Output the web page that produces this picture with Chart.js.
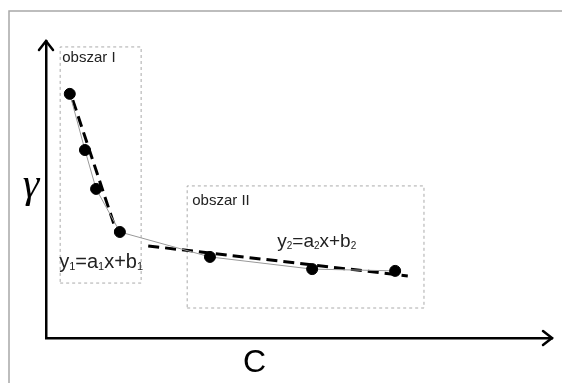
<!DOCTYPE html>
<html>
<head>
<meta charset="utf-8">
<script src="https://cdn.jsdelivr.net/npm/chart.js@4/dist/chart.umd.min.js"></script>
<style>
    html, body { margin: 0; padding: 0; background: #fff; }
    canvas { display: block; }
</style>
</head>
<body>
<canvas id="regionChart" width="562" height="383"></canvas>
<script>
// Measured points (C on x, gamma on y, arbitrary units 0-100)
const pointX = [4.7, 7.7, 9.9, 14.6, 32.4, 52.6, 69.0];
const pointY = [82.2, 63.3, 50.2, 35.7, 27.3, 23.2, 22.6];

// Fitted lines for both regions
const fit1X = [5.3, 14.0];
const fit1Y = [80.1, 35.4];
const fit2X = [20.2, 71.5];
const fit2Y = [31.0, 20.9];

// Region boxes [xMin, xMax, yMin, yMax]
const region1 = [2.8, 18.8, 18.5, 98.0];
const region2 = [27.9, 74.7, 10.1, 51.2];

const region1Label = 'obszar I';
const region2Label = 'obszar II';
const xTitle = 'C';
const yTitle = 'γ';

function toXY(xs, ys) {
    return xs.map((x, i) => ({ x: x, y: ys[i] }));
}

function boxPath(r) {
    return [
        { x: r[0], y: r[2] }, { x: r[1], y: r[2] },
        { x: r[1], y: r[3] }, { x: r[0], y: r[3] },
        { x: r[0], y: r[2] }
    ];
}

// text with subscripts: parts = [[text, isSub], ...]
function drawRich(ctx, parts, x, y, size) {
    let cx = x;
    parts.forEach(p => {
        if (p[1]) {
            ctx.font = Math.round(size * 0.55) + 'px "Liberation Sans", Arial, sans-serif';
            ctx.fillText(p[0], cx, y + size * 0.12);
        } else {
            ctx.font = size + 'px "Liberation Sans", Arial, sans-serif';
            ctx.fillText(p[0], cx, y);
        }
        cx += ctx.measureText(p[0]).width;
    });
}

const decorPlugin = {
    id: 'decor',
    beforeDraw(chart) {
        const ctx = chart.ctx;
        ctx.save();
        ctx.strokeStyle = '#a8a8a8';
        ctx.lineWidth = 1.5;
        ctx.beginPath();
        ctx.moveTo(562, 11);
        ctx.lineTo(9, 11);
        ctx.lineTo(9, 383);
        ctx.stroke();
        ctx.restore();
    },
    afterDraw(chart) {
        const ctx = chart.ctx;
        const xs = chart.scales.x;
        const ys = chart.scales.y;
        const area = chart.chartArea;
        ctx.save();

        // arrow heads
        ctx.strokeStyle = '#000';
        ctx.lineWidth = 2.5;
        ctx.lineCap = 'round';
        ctx.lineJoin = 'miter';
        ctx.beginPath();
        ctx.moveTo(area.right - 9, area.bottom - 7);
        ctx.lineTo(area.right, area.bottom);
        ctx.lineTo(area.right - 9, area.bottom + 7);
        ctx.moveTo(area.left - 7, area.top + 9);
        ctx.lineTo(area.left, area.top);
        ctx.lineTo(area.left + 7, area.top + 9);
        ctx.stroke();

        ctx.fillStyle = '#222';
        ctx.textBaseline = 'alphabetic';
        ctx.textAlign = 'left';
        ctx.font = '15px "Liberation Sans", Arial, sans-serif';
        ctx.fillText(region1Label, xs.getPixelForValue(3.2), ys.getPixelForValue(92.9));
        ctx.fillText(region2Label, xs.getPixelForValue(28.9), ys.getPixelForValue(44.8));

        drawRich(ctx, [['y', 0], ['1', 1], ['=a', 0], ['1', 1], ['x+b', 0], ['1', 1]],
            xs.getPixelForValue(2.6), ys.getPixelForValue(23.6), 20);
        drawRich(ctx, [['y', 0], ['2', 1], ['=a', 0], ['2', 1], ['x+b', 0], ['2', 1]],
            xs.getPixelForValue(45.7), ys.getPixelForValue(30.6), 19);

        // axis titles
        ctx.fillStyle = '#000';
        ctx.textAlign = 'center';
        ctx.font = '32px "Liberation Sans", Arial, sans-serif';
        ctx.fillText(xTitle, xs.getPixelForValue(41.2), area.bottom + 34);
        ctx.font = 'italic 42px "Liberation Serif", "DejaVu Serif", serif';
        ctx.fillText(yTitle, area.left - 15, ys.getPixelForValue(47.5));
        ctx.restore();
    }
};

const chart = new Chart(document.getElementById('regionChart').getContext('2d'), {
    type: 'scatter',
    data: {
        datasets: [
            {
                data: toXY(pointX, pointY),
                showLine: true,
                borderColor: '#999',
                borderWidth: 1,
                pointRadius: 5.5,
                pointBackgroundColor: '#000',
                pointBorderColor: '#000',
                pointBorderWidth: 1,
                order: 0
            },
            {
                data: toXY(fit1X, fit1Y),
                showLine: true,
                borderColor: '#000',
                borderWidth: 3,
                borderDash: [11, 6],
                pointRadius: 0,
                order: 1
            },
            {
                data: toXY(fit2X, fit2Y),
                showLine: true,
                borderColor: '#000',
                borderWidth: 3,
                borderDash: [11, 6],
                pointRadius: 0,
                order: 1
            },
            {
                data: boxPath(region1),
                showLine: true,
                borderColor: '#aaa',
                borderWidth: 1,
                borderDash: [3, 3],
                pointRadius: 0,
                order: 3
            },
            {
                data: boxPath(region2),
                showLine: true,
                borderColor: '#aaa',
                borderWidth: 1,
                borderDash: [3, 3],
                pointRadius: 0,
                order: 3
            }
        ]
    },
    options: {
        responsive: false,
        animation: false,
        layout: {
            padding: { left: 46, right: 10, top: 41, bottom: 45 }
        },
        plugins: {
            legend: { display: false },
            tooltip: { enabled: false }
        },
        scales: {
            x: {
                type: 'linear',
                min: 0,
                max: 100,
                grid: { display: false },
                ticks: { display: false },
                border: { display: true, color: '#000', width: 2.5 },
                afterFit: s => { s.height = 0; }
            },
            y: {
                type: 'linear',
                min: 0,
                max: 100,
                grid: { display: false },
                ticks: { display: false },
                border: { display: true, color: '#000', width: 2.5 },
                afterFit: s => { s.width = 0; }
            }
        }
    },
    plugins: [decorPlugin]
});
</script>
</body>
</html>
